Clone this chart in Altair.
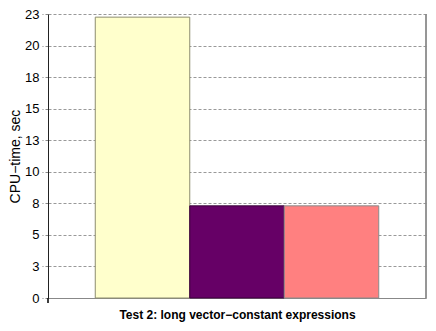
import altair as alt
import pandas as pd

categories = ["Run 1", "Run 2", "Run 3"]
cpu_time = [22.25, 7.3, 7.3]
fills = ["#FFFFCC", "#660066", "#FF8080"]
strokes = ["#8c8c6e", "#3a003a", "#8a8a8a"]
y_ticks = [0, 2.5, 5, 7.5, 10, 12.5, 15, 17.5, 20, 22.5]

df = pd.DataFrame({"cat": categories, "t": cpu_time})

W, H = 378, 284
FONT = "Liberation Sans"

bars = alt.Chart(df).mark_bar(strokeWidth=1).encode(
    x=alt.X(
        "cat:N",
        sort=categories,
        scale=alt.Scale(paddingInner=0, paddingOuter=0.5),
        axis=alt.Axis(
            title="Test 2: long vector−constant expressions",
            labels=False,
            ticks=False,
            domainColor="#888888",
            titleFontWeight="bold",
            titleFontSize=12,
            titlePadding=11,
            titleFont=FONT,
            titleColor="black",
        ),
    ),
    y=alt.Y(
        "t:Q",
        scale=alt.Scale(domain=[0, 22.5], nice=False, zero=True),
        axis=alt.Axis(
            values=y_ticks,
            format=".0f",
            title="CPU−time, sec",
            titleFont=FONT,
            titleFontSize=14,
            titleFontWeight="normal",
            titleColor="black",
            titlePadding=2,
            labelFont=FONT,
            labelFontSize=13,
            labelColor="black",
            labelPadding=3,
            tickSize=6,
            tickColor="#888888",
            tickDash=[3, 2],
            domainColor="#222222",
            grid=True,
            gridColor="#999999",
            gridDash=[3, 2],
        ),
    ),
    color=alt.Color("cat:N", scale=alt.Scale(domain=categories, range=fills), legend=None),
    stroke=alt.Stroke("cat:N", scale=alt.Scale(domain=categories, range=strokes), legend=None),
)

right_border = alt.Chart(df).mark_rule(color="#888888", strokeWidth=1).encode(
    x=alt.value(W), y=alt.value(0), y2=alt.value(H)
)
y_ext = alt.Chart(df).mark_rule(color="#222222", strokeWidth=1).encode(
    x=alt.value(0), y=alt.value(H), y2=alt.value(H + 5)
)

chart = (
    alt.layer(bars, right_border, y_ext)
    .properties(
        width=W,
        height=H,
        padding={"left": 40, "top": 6, "right": 2, "bottom": 25},
        autosize=alt.AutoSizeParams(type="none"),
        background="white",
    )
    .configure_view(stroke=None)
)

chart.save("out.html", embed_options={"renderer": "svg", "actions": False})
